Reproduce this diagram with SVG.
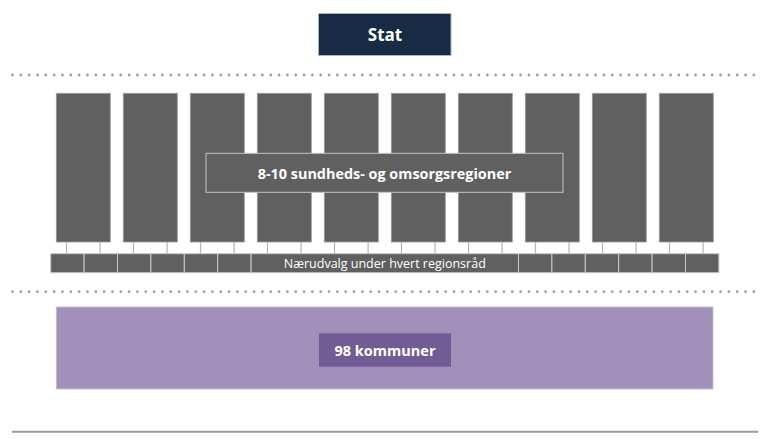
<svg xmlns="http://www.w3.org/2000/svg" width="770" height="439" viewBox="0 0 770 439">
<style>
.col{fill:#606060;stroke:#9a9a9a;stroke-width:0.8}
.sb{fill:#606060;stroke:#c8c8c8;stroke-width:1}
.con{stroke:#b4b4b4;stroke-width:1.2;fill:none}
.dots{stroke:#a0a0a0;stroke-width:2.8;stroke-linecap:round;stroke-dasharray:0 8.33;fill:none}
.tb{font-family:"Open Sans","Liberation Sans",sans-serif;font-weight:700;fill:#fff;text-anchor:middle}
.tr{font-family:"Open Sans","Liberation Sans",sans-serif;fill:#fff;text-anchor:middle}
</style>
<rect width="770" height="439" fill="#fff"/>
<g id="stat">
<rect x="318.5" y="13.5" width="132.5" height="42" fill="#172b45" stroke="#a9b3c2" stroke-width="1"/>
<text class="tb" x="385" y="41" font-size="17">Stat</text>
</g>
<line class="dots" x1="12.5" y1="75" x2="758" y2="75"/>
<g id="regions">
<rect class="col" x="56.3" y="93.3" width="54" height="148.7"/>
<rect class="col" x="123.3" y="93.3" width="54" height="148.7"/>
<rect class="col" x="190.3" y="93.3" width="54" height="148.7"/>
<rect class="col" x="257.3" y="93.3" width="54" height="148.7"/>
<rect class="col" x="324.3" y="93.3" width="54" height="148.7"/>
<rect class="col" x="391.3" y="93.3" width="54" height="148.7"/>
<rect class="col" x="458.3" y="93.3" width="54" height="148.7"/>
<rect class="col" x="525.3" y="93.3" width="54" height="148.7"/>
<rect class="col" x="592.3" y="93.3" width="54" height="148.7"/>
<rect class="col" x="659.3" y="93.3" width="54" height="148.7"/>
</g>
<g id="regions-label">
<rect x="206" y="153.3" width="357" height="39" fill="#606060" stroke="#c4c4c4" stroke-width="1"/>
<text class="tb" x="384.5" y="178.5" font-size="14.4">8-10 sundheds- og omsorgsregioner</text>
</g>
<g id="connectors">
<line class="con" x1="66.5" y1="242" x2="66.5" y2="253.7"/><line class="con" x1="100.1" y1="242" x2="100.1" y2="253.7"/>
<line class="con" x1="133.5" y1="242" x2="133.5" y2="253.7"/><line class="con" x1="167.1" y1="242" x2="167.1" y2="253.7"/>
<line class="con" x1="200.5" y1="242" x2="200.5" y2="253.7"/><line class="con" x1="234.1" y1="242" x2="234.1" y2="253.7"/>
<line class="con" x1="267.5" y1="242" x2="267.5" y2="253.7"/><line class="con" x1="301.1" y1="242" x2="301.1" y2="253.7"/>
<line class="con" x1="334.5" y1="242" x2="334.5" y2="253.7"/><line class="con" x1="368.1" y1="242" x2="368.1" y2="253.7"/>
<line class="con" x1="401.5" y1="242" x2="401.5" y2="253.7"/><line class="con" x1="435.1" y1="242" x2="435.1" y2="253.7"/>
<line class="con" x1="468.5" y1="242" x2="468.5" y2="253.7"/><line class="con" x1="502.1" y1="242" x2="502.1" y2="253.7"/>
<line class="con" x1="535.5" y1="242" x2="535.5" y2="253.7"/><line class="con" x1="569.1" y1="242" x2="569.1" y2="253.7"/>
<line class="con" x1="602.5" y1="242" x2="602.5" y2="253.7"/><line class="con" x1="636.1" y1="242" x2="636.1" y2="253.7"/>
<line class="con" x1="669.5" y1="242" x2="669.5" y2="253.7"/><line class="con" x1="703.1" y1="242" x2="703.1" y2="253.7"/>
</g>
<g id="naerudvalg">
<rect class="sb" x="50.7" y="253.7" width="33.4" height="19"/>
<rect class="sb" x="84.1" y="253.7" width="33.4" height="19"/>
<rect class="sb" x="117.5" y="253.7" width="33.4" height="19"/>
<rect class="sb" x="150.9" y="253.7" width="33.4" height="19"/>
<rect class="sb" x="184.3" y="253.7" width="33.4" height="19"/>
<rect class="sb" x="217.7" y="253.7" width="33.4" height="19"/>
<rect class="sb" x="251.1" y="253.7" width="267.4" height="19"/>
<rect class="sb" x="518.5" y="253.7" width="33.4" height="19"/>
<rect class="sb" x="551.9" y="253.7" width="33.4" height="19"/>
<rect class="sb" x="585.3" y="253.7" width="33.4" height="19"/>
<rect class="sb" x="618.7" y="253.7" width="33.4" height="19"/>
<rect class="sb" x="652.1" y="253.7" width="33.4" height="19"/>
<rect class="sb" x="685.5" y="253.7" width="33.4" height="19"/>
<text class="tr" x="384.8" y="268" font-size="12.5">Nærudvalg under hvert regionsråd</text>
</g>
<line class="dots" x1="12.5" y1="291.7" x2="758" y2="291.7"/>
<g id="kommuner">
<rect x="56.3" y="307" width="656.7" height="82" fill="#a28fba" stroke="#c9bdd8" stroke-width="0.8"/>
<rect x="319" y="333.3" width="132" height="33.4" fill="#725c96"/>
<text class="tb" x="385" y="355.5" font-size="14.5">98 kommuner</text>
</g>
<line x1="12" y1="431.7" x2="758" y2="431.7" stroke="#9a9a9a" stroke-width="2"/>
</svg>
